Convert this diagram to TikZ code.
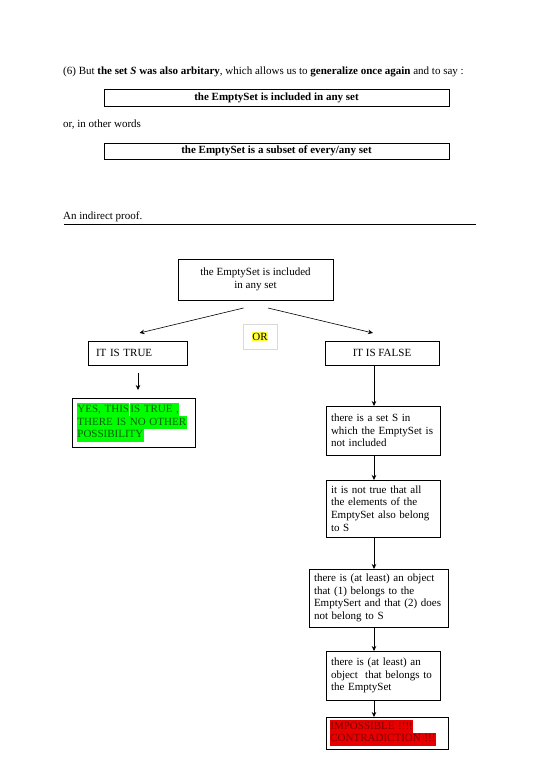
\documentclass[tikz,border=0pt]{standalone}
\usepackage{fontspec}
\setmainfont{Liberation Serif}
\usetikzlibrary{arrows.meta}
\definecolor{hlgreen}{HTML}{00FF00}
\definecolor{txtgreen}{HTML}{0B5D0B}
\definecolor{hlred}{HTML}{E80000}
\definecolor{txtred}{HTML}{7A0000}
\definecolor{hlyellow}{HTML}{FFFF33}
\newcommand{\hlg}[1]{{\setlength{\fboxsep}{0.4pt}\colorbox{hlgreen}{\strut\color{txtgreen}#1}}}
\newcommand{\hlr}[1]{{\setlength{\fboxsep}{0.4pt}\colorbox{hlred}{\strut\color{txtred}#1}}}
\newcommand{\bodyfont}{\fontsize{11}{12.6}\selectfont}
\tikzset{
  box/.style={draw, line width=0.6pt, outer sep=0pt, inner ysep=2pt, inner xsep=6pt,
    font=\bodyfont},
  flow/.style={-{Stealth[length=5pt,width=4.5pt]}, line width=0.6pt},
}
\begin{document}
\begin{tikzpicture}[x=1pt,y=-1pt]
\useasboundingbox (0,0) rectangle (540,764);
\fill[white] (0,0) rectangle (540,764);
% header text
\node[anchor=west, inner sep=0pt, font=\bodyfont] (intro) at (63,72)
  {(6) But \textbf{the set \textit{S} was also arbitary}, which allows us to \textbf{generalize once again} and to say :};
\node[box, minimum width=345pt, minimum height=17pt, inner ysep=1pt, font=\bodyfont\bfseries] (b1) at (276.5,97.5)
  {the EmptySet is included in any set};
\node[anchor=west, inner sep=0pt, font=\bodyfont] (other) at (63,125) {or, in other words};
\node[box, minimum width=345pt, minimum height=16pt, inner ysep=1pt, font=\bodyfont\bfseries] (b2) at (276.5,151)
  {the EmptySet is a subset of every/any set};
\node[anchor=west, inner sep=0pt, font=\bodyfont] (ind) at (63,217) {An indirect proof.};
\draw[line width=1.4pt] (64,224.5) -- (476,224.5);
% diagram
\node[box, minimum width=155pt, minimum height=41pt, align=center] (top) at (255.5,279.5)
  {the EmptySet is included\\in any set};
\node[draw=black!15, line width=0.6pt, minimum width=34pt, minimum height=25pt, inner sep=1pt,
  font=\bodyfont] (or) at (260,336.5)
  {{\setlength{\fboxsep}{0.6pt}\colorbox{hlyellow}{OR}}};
\node[box, minimum width=99pt, minimum height=24pt, inner xsep=8pt, text width=83pt, align=left] (true) at (137.5,353)
  {IT IS TRUE};
\node[box, minimum width=114pt, minimum height=24pt, align=center] (false) at (382,353)
  {IT IS FALSE};
\node[box, minimum width=123pt, minimum height=49pt, text width=113pt, align=left, inner xsep=5pt] (yes) at (133.5,422.5)
  {\hlg{YES, THIS}\hspace{0.5pt}\hlg{IS TRUE ,}\\[-1.6pt]\hlg{THERE IS NO OTHER}\\[-1.6pt]\hlg{POSSIBILITY}};
\node[box, minimum width=114pt, minimum height=49pt, text width=104pt, align=left, inner xsep=5pt] (f1) at (383,430.5)
  {there is a set S in\\which the EmptySet is\\not included};
\node[box, minimum width=114pt, minimum height=57pt, text width=104pt, align=left, inner xsep=5pt] (f2) at (383,508.5)
  {it is not true that all\\the elements of the\\EmptySet also belong\\to S};
\node[box, minimum width=139pt, minimum height=58pt, text width=129pt, align=left, inner xsep=5pt] (f3) at (378.5,598)
  {there is (at least) an object\\that (1) belongs to the\\EmptySert and that (2) does\\not belong to S};
\node[box, minimum width=114pt, minimum height=49pt, text width=104pt, align=left, inner xsep=5pt] (f4) at (383,675.5)
  {there is (at least) an\\object\ \ that belongs to\\the EmptySet};
\node[box, minimum width=122pt, minimum height=32pt, text width=114pt, align=left, inner xsep=4pt] (f5) at (387,733)
  {\hlr{IMPOSSIBLE !!!!}\\[-1.6pt]\hlr{CONTRADICTION !!!}};
% connectors
\coordinate (fcol) at (374,0);
\coordinate (tcol) at (138,0);
\draw[flow] ([xshift=-12pt,yshift=-8pt]top.south) -- ([xshift=2pt,yshift=8pt]true.north);
\draw[flow] ([xshift=12.5pt,yshift=-8pt]top.south) -- ([xshift=-9pt,yshift=8pt]false.north);
\draw[flow] ([yshift=-8pt]true.south -| tcol) -- ([yshift=8pt]yes.north -| tcol);
\draw[flow] (false.south -| fcol) -- (f1.north -| fcol);
\draw[flow] (f1.south -| fcol) -- (f2.north -| fcol);
\draw[flow] (f2.south -| fcol) -- (f3.north -| fcol);
\draw[flow] (f3.south -| fcol) -- (f4.north -| fcol);
\draw[flow] (f4.south -| fcol) -- (f5.north -| fcol);
\end{tikzpicture}
\end{document}
